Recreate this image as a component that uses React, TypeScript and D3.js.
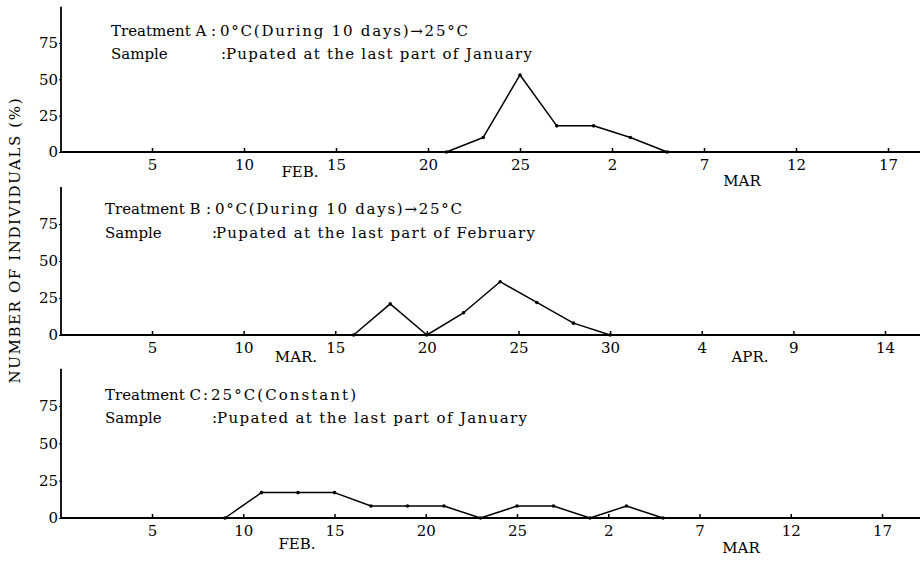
import React, { useEffect, useRef } from 'react'
import * as d3 from 'd3'

// Days counted from Feb 1 (top, bottom) or Mar 1 (middle)
const tickDays = [5, 10, 15, 20, 25, 30, 35, 40, 45]
const febMarLabels = ['5', '10', '15', '20', '25', '2', '7', '12', '17']
const marAprLabels = ['5', '10', '15', '20', '25', '30', '4', '9', '14']
const yTicks = [0, 25, 50, 75]

// Treatment A
const aDays = [21, 23, 25, 27, 29, 31, 33]
const aValues = [0, 10, 53, 18, 18, 10, 0]
// Treatment B
const bDays = [16, 18, 20, 22, 24, 26, 28, 30]
const bValues = [0, 21, 0, 15, 36, 22, 8, 0]
// Treatment C
const cDays = [9, 11, 13, 15, 17, 19, 21, 23, 25, 27, 29, 31, 33]
const cValues = [0, 17, 17, 17, 8, 8, 8, 0, 8, 8, 0, 8, 0]

const yLabel = 'NUMBER OF INDIVIDUALS (%)'

type Panel = {
  days: number[]
  values: number[]
  tickLabels: string[]
  treatment: string
  condition: string
  sample: string
  months: string[]
}

const panels: Panel[] = [
  { days: aDays, values: aValues, tickLabels: febMarLabels, treatment: 'Treatment A', condition: '0°C(During 10 days)→25°C', sample: 'Pupated at the last part of January', months: ['FEB.', 'MAR'] },
  { days: bDays, values: bValues, tickLabels: marAprLabels, treatment: 'Treatment B', condition: '0°C(During 10 days)→25°C', sample: 'Pupated at the last part of February', months: ['MAR.', 'APR.'] },
  { days: cDays, values: cValues, tickLabels: febMarLabels, treatment: 'Treatment C', condition: '25°C(Constant)', sample: 'Pupated at the last part of January', months: ['FEB.', 'MAR'] },
]

// layout of each panel (pixels)
const layout = [
  { base: 152, y75: 43, xEnd: 888, tx: 111, tColon: 211, tCond: 220, tCondLen: 248, ty: 36, sColon: 221, sText: 226, sLen: 306, sy: 59, m1: [300, 177], m2: [742, 186] },
  { base: 335, y75: 224, xEnd: 885, tx: 105, tColon: 206, tCond: 215, tCondLen: 247, ty: 214, sColon: 212, sText: 216, sLen: 319, sy: 238, m1: [296, 362], m2: [750, 362] },
  { base: 518, y75: 406, xEnd: 882, tx: 105, tColon: 203, tCond: 211, tCondLen: 145, ty: 400, sColon: 212, sText: 217, sLen: 310, sy: 423, m1: [297, 549], m2: [741, 553] },
]

const W = 920
const H = 562
const axisX = 61

export default function App() {
  const ref = useRef<SVGSVGElement>(null)

  useEffect(() => {
    const svg = d3.select(ref.current)
    svg.selectAll('*').remove()
    svg.append('rect').attr('width', W).attr('height', H).attr('fill', '#fff')

    const font = '"DejaVu Serif", "Liberation Serif", serif'

    panels.forEach((p, i) => {
      const L = layout[i]
      const x = d3.scaleLinear().domain([5, 45]).range([152, L.xEnd])
      const y = d3.scaleLinear().domain([0, 75]).range([L.base, L.y75])
      const g = svg.append('g')

      // baseline + y axis line
      g.append('line').attr('x1', axisX).attr('x2', W).attr('y1', L.base).attr('y2', L.base)
        .attr('stroke', '#000').attr('stroke-width', 1.8)
      g.append('line').attr('x1', axisX).attr('x2', axisX).attr('y1', L.base).attr('y2', y(100))
        .attr('stroke', '#000').attr('stroke-width', 1.8)

      // x axis: small inward ticks
      const xAxis = g.append('g')
        .attr('transform', 'translate(0,' + L.base + ')')
        .call(d3.axisBottom(x).tickValues(tickDays).tickSizeInner(-4).tickSizeOuter(0).tickPadding(7)
          .tickFormat((d, j) => p.tickLabels[j]))
      xAxis.select('.domain').remove()
      xAxis.selectAll('line').attr('stroke', '#000').attr('stroke-width', 1.5)
      xAxis.selectAll('text').attr('font-family', font).attr('font-size', 15).attr('fill', '#000')

      // y axis
      const yAxis = g.append('g')
        .attr('transform', 'translate(' + axisX + ',0)')
        .call(d3.axisLeft(y).tickValues(yTicks).tickSize(2).tickPadding(1).tickFormat(d3.format('d')))
      yAxis.select('.domain').remove()
      yAxis.selectAll('line').attr('stroke', '#000')
      yAxis.selectAll('text').attr('font-family', font).attr('font-size', 15).attr('fill', '#000')

      // series
      const pts = p.days.map((d, j) => [x(d), y(p.values[j])] as [number, number])
      g.append('path').attr('d', d3.line()(pts)).attr('fill', 'none')
        .attr('stroke', '#000').attr('stroke-width', 1.5).attr('stroke-linejoin', 'round')
      g.selectAll('.dot').data(pts).enter().append('circle')
        .attr('cx', d => d[0]).attr('cy', d => d[1]).attr('r', 1.8).attr('fill', '#000')

      // titles
      const t = g.append('g').attr('font-family', font).attr('font-size', 15).attr('fill', '#000')
      t.append('text').attr('x', L.tx).attr('y', L.ty).text(p.treatment)
      t.append('text').attr('x', L.tColon).attr('y', L.ty).text(':')
      t.append('text').attr('x', L.tCond).attr('y', L.ty).attr('textLength', L.tCondLen)
        .attr('lengthAdjust', 'spacing').text(p.condition)
      t.append('text').attr('x', L.tx).attr('y', L.sy).text('Sample')
      t.append('text').attr('x', L.sColon).attr('y', L.sy).text(':')
      t.append('text').attr('x', L.sText).attr('y', L.sy).attr('textLength', L.sLen)
        .attr('lengthAdjust', 'spacing').text(p.sample)

      // month labels
      t.append('text').attr('x', L.m1[0]).attr('y', L.m1[1]).attr('text-anchor', 'middle').text(p.months[0])
      t.append('text').attr('x', L.m2[0]).attr('y', L.m2[1]).attr('text-anchor', 'middle').text(p.months[1])
    })

    svg.append('text')
      .attr('transform', 'translate(20,241) rotate(-90)')
      .attr('text-anchor', 'middle')
      .attr('font-family', font).attr('font-size', 15).attr('fill', '#000')
      .attr('textLength', 285).attr('lengthAdjust', 'spacing')
      .text(yLabel)
  }, [])

  return (
    <svg ref={ref} width={W} height={H}
      style={{ position: 'absolute', left: 0, top: 0, background: '#fff' }} />
  )
}
